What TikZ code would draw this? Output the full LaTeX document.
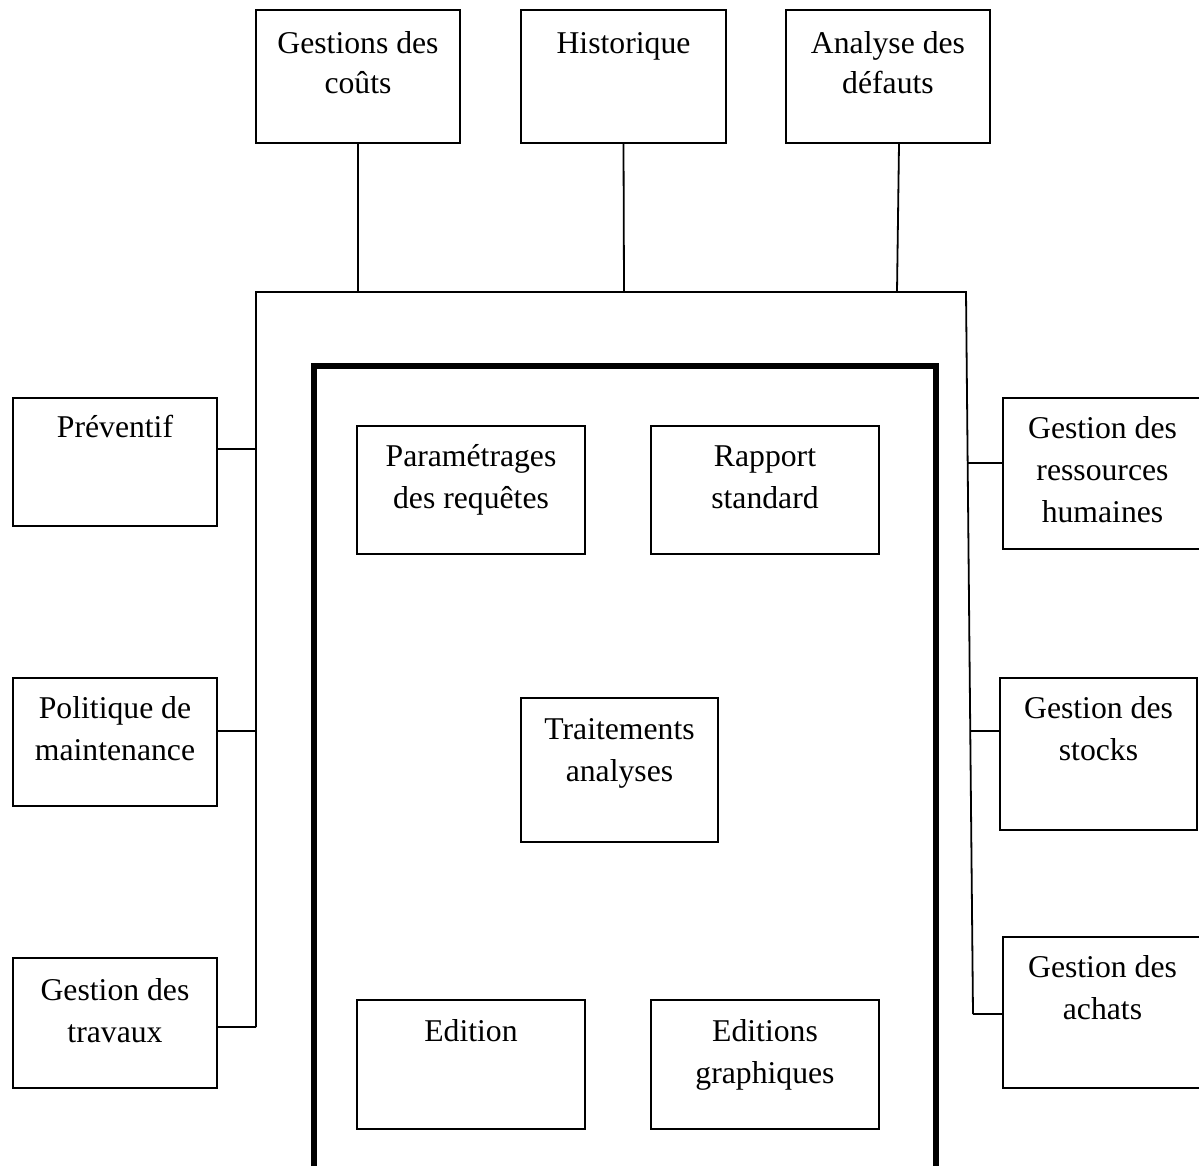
\documentclass[tikz,border=0pt]{standalone}
\usepackage{fontspec}
\setmainfont{Liberation Serif}
\tikzset{
  box/.style={draw, line width=0.9pt, inner sep=0pt},
  lbl/.style={inner sep=0pt, align=center, font=\fontsize{15.85pt}{21pt}\selectfont},
  wire/.style={line width=0.9pt},
  frame/.style={line width=3pt, line cap=rect},
}
% fixed-height strut for the first line of each label
\newcommand\firststrut{\rule{0pt}{14pt}}
% \mybox{name}{x1}{y1}{x2}{y2}{first baseline below top}{text}
\newcommand\mybox[7]{%
  \node[box, minimum width={(#4-#2)*0.5pt}, minimum height={(#5-#3)*0.5pt}]
    (#1) at ({(#2+#4)/2},{(#3+#5)/2}) {};
  \node[lbl, anchor=north] (#1-t) at ([yshift=14pt-#6]#1.north) {\firststrut#7};
}
\begin{document}
\begin{tikzpicture}[x=0.5pt, y=-0.5pt]
  \useasboundingbox (0,0) rectangle (1199,1166);

  % top row
  \mybox{cost}{256}{10}{460}{143}{22pt}{Gestions des\\[-1pt]coûts}
  \mybox{hist}{521}{10}{726}{143}{22pt}{Historique}
  \mybox{def}{786}{10}{990}{143}{22pt}{Analyse des\\[-1pt]défauts}

  % left column
  \mybox{prev}{13}{398}{217}{526}{20pt}{Préventif}
  \mybox{pol}{13}{678}{217}{806}{20.5pt}{Politique de\\maintenance}
  \mybox{trav}{13}{958}{217}{1088}{21.5pt}{Gestion des\\travaux}

  % right column
  \mybox{rh}{1003}{398}{1202}{549}{20.5pt}{Gestion des\\ressources\\humaines}
  \mybox{stk}{1000}{678}{1197}{830}{20.5pt}{Gestion des\\stocks}
  \mybox{ach}{1003}{937}{1202}{1088}{20.5pt}{Gestion des\\achats}

  % inner modules
  \mybox{par}{357}{426}{585}{554}{20.5pt}{Paramétrages\\des requêtes}
  \mybox{rap}{651}{426}{879}{554}{20.5pt}{Rapport\\standard}
  \mybox{trt}{521}{698}{718}{842}{21pt}{Traitements\\analyses}
  \mybox{edi}{357}{1000}{585}{1129}{21pt}{Edition}
  \mybox{edg}{651}{1000}{879}{1129}{21pt}{Editions\\graphiques}

  % thick inner frame, open at the bottom
  \draw[frame] (313.5,1175) -- (313.5,366) -- (936,366) -- (936,1175);

  % bus frame
  \coordinate (bl) at (256,1027);
  \coordinate (tl) at (256,292);
  \coordinate (tr) at (966,292);
  \coordinate (br) at (973,1014);
  \draw[wire] (bl) -- (tl) -- (tr) -- (br);

  % junctions on the bus
  \coordinate (jcost) at (358,292);
  \coordinate (jhist) at (624,292);
  \coordinate (jdef) at (897,292);
  \coordinate (jprev) at (256,449);
  \coordinate (jpol) at (256,731);
  \coordinate (jrh) at (967.7,463);
  \coordinate (jstk) at (970.3,731);
  \coordinate (ddef) at ([xshift=5.5pt]def.south);

  % connectors
  \draw[wire] (cost.south) -- (jcost);
  \draw[wire] (hist.south) -- (jhist);
  \draw[wire] (ddef) -- (jdef);
  \draw[wire] (jprev) -- (jprev -| prev.east);
  \draw[wire] (jpol) -- (jpol -| pol.east);
  \draw[wire] (bl) -- (bl -| trav.east);
  \draw[wire] (jrh) -- (jrh -| rh.west);
  \draw[wire] (jstk) -- (jstk -| stk.west);
  \draw[wire] (br) -- (br -| ach.west);
\end{tikzpicture}
\end{document}
